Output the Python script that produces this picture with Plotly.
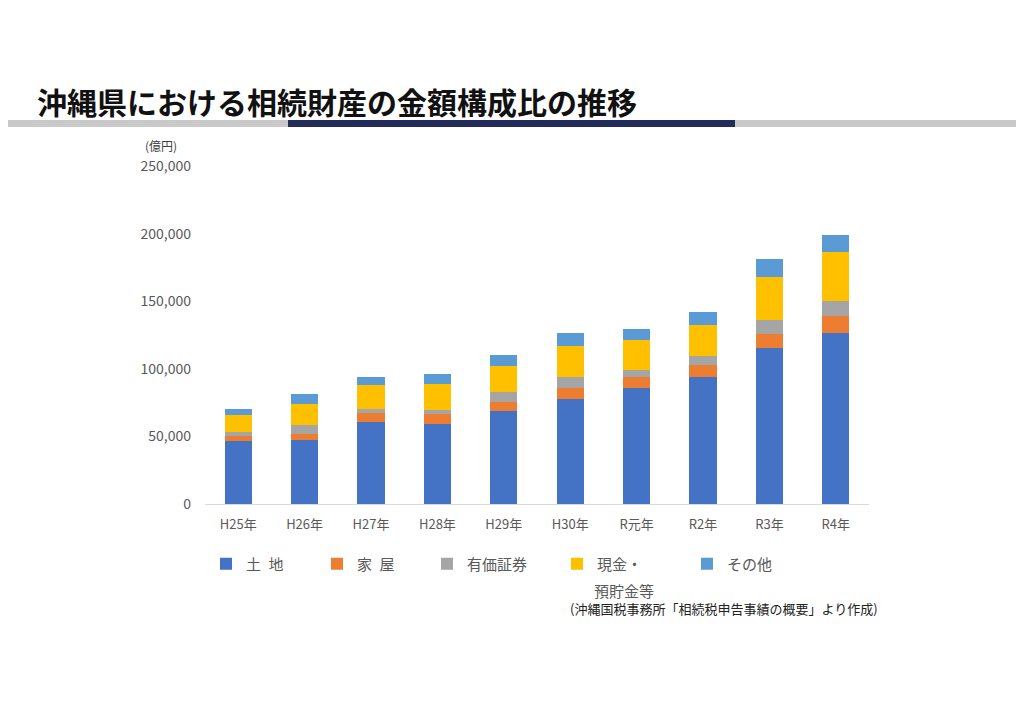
import plotly.graph_objects as go

# ---- data (億円) ----
years = ["H25年", "H26年", "H27年", "H28年", "H29年", "H30年", "R元年", "R2年", "R3年", "R4年"]
land = [46400, 47100, 60700, 59500, 68900, 77300, 85500, 94100, 115200, 126700]
house = [3700, 5000, 6500, 7100, 6900, 8200, 8600, 8700, 10300, 12600]
securities = [3200, 6100, 2900, 2800, 6900, 8400, 5000, 6400, 10700, 11000]
cash = [12900, 16100, 17800, 19300, 19300, 23200, 22400, 23000, 31400, 36100]
other = [4100, 6700, 6200, 7200, 8000, 9400, 8200, 9700, 13600, 12800]

series_names = ["土\u2002地", "家\u2002屋", "有価証券", "現金・", "その他"]
series_values = [land, house, securities, cash, other]
series_colors = ["#4472C4", "#ED7D31", "#A5A5A5", "#FFC000", "#5B9BD5"]
y_ticks = [0, 50000, 100000, 150000, 200000, 250000]

W, H = 1024, 724
OFF = 8  # page margin of the browser around the figure
L, T = 205 - OFF, 166 - OFF
R = W - (869 - OFF)
B = H - (504 - OFF)
PW, PH = W - L - R, H - T - B


def px_x(p):
    return (p - OFF - L) / PW


def px_y(p):
    return (H - B - (p - OFF)) / PH


FONT = "Noto Sans CJK JP"
GRAY = "#595959"

fig = go.Figure()
legend_ids = ["legend", "legend2", "legend3", "legend4", "legend5"]
for name, vals, col, lid in zip(series_names, series_values, series_colors, legend_ids):
    fig.add_trace(go.Bar(x=years, y=vals, name=name, marker=dict(color=col, line=dict(width=0)),
                         legend=lid))

layout_legends = {}
text_starts = [242, 353, 463, 593, 723]
for lid, ts in zip(legend_ids, text_starts):
    layout_legends[lid] = dict(
        x=px_x(ts + 4 - 40), xanchor="left", y=px_y(564), yanchor="middle",
        orientation="h", bgcolor="rgba(0,0,0,0)", borderwidth=0,
        font=dict(family=FONT, size=15, color=GRAY),
    )

fig.update_layout(
    width=W, height=H,
    margin=dict(l=L, r=R, t=T, b=B, autoexpand=False),
    paper_bgcolor="white", plot_bgcolor="white",
    barmode="stack", bargap=0.59,
    font=dict(family=FONT, color=GRAY),
    showlegend=True,
    **layout_legends,
)

fig.update_xaxes(
    showgrid=False, showline=True, linecolor="#D9D9D9", linewidth=1,
    ticks="", tickfont=dict(family=FONT, size=13, color=GRAY),
    ticklabelstandoff=8,
)
fig.update_yaxes(
    range=[0, 250000], tickvals=y_ticks, tickformat=",",
    showgrid=False, showline=False, zeroline=False, ticks="",
    tickfont=dict(family=FONT, size=14, color=GRAY),
    ticklabelstandoff=13,
)

# title
fig.add_annotation(
    text="<b>沖縄県における相続財産の金額構成比の推移</b>",
    x=px_x(35), y=px_y(101), xref="paper", yref="paper",
    xanchor="left", yanchor="middle", showarrow=False,
    font=dict(family=FONT, size=30, color="#111111"),
)
# decorative band under the title
fig.add_shape(type="rect", xref="paper", yref="paper",
              x0=px_x(0), x1=px_x(W + OFF), y0=px_y(127), y1=px_y(120),
              fillcolor="#C9C9C9", line=dict(width=0), layer="below")
fig.add_shape(type="rect", xref="paper", yref="paper",
              x0=px_x(288), x1=px_x(735), y0=px_y(127), y1=px_y(120),
              fillcolor="#232A5C", line=dict(width=0), layer="below")

# unit label
fig.add_annotation(
    text="(億円)", x=px_x(161), y=px_y(146), xref="paper", yref="paper",
    xanchor="center", yanchor="middle", showarrow=False, borderpad=0,
    font=dict(family=FONT, size=12, color="#404040"),
)
# second line of the 現金 legend item
fig.add_annotation(
    text="預貯金等", x=px_x(593), y=px_y(590), xref="paper", yref="paper",
    xanchor="left", yanchor="middle", showarrow=False, borderpad=0,
    font=dict(family=FONT, size=15, color=GRAY),
)
# source
fig.add_annotation(
    text="(沖縄国税事務所「相続税申告事績の概要」より作成)",
    x=px_x(879), y=px_y(608), xref="paper", yref="paper",
    xanchor="right", yanchor="middle", showarrow=False, borderpad=0,
    font=dict(family=FONT, size=13, color="#222222"),
)

fig.write_html("out.html")
